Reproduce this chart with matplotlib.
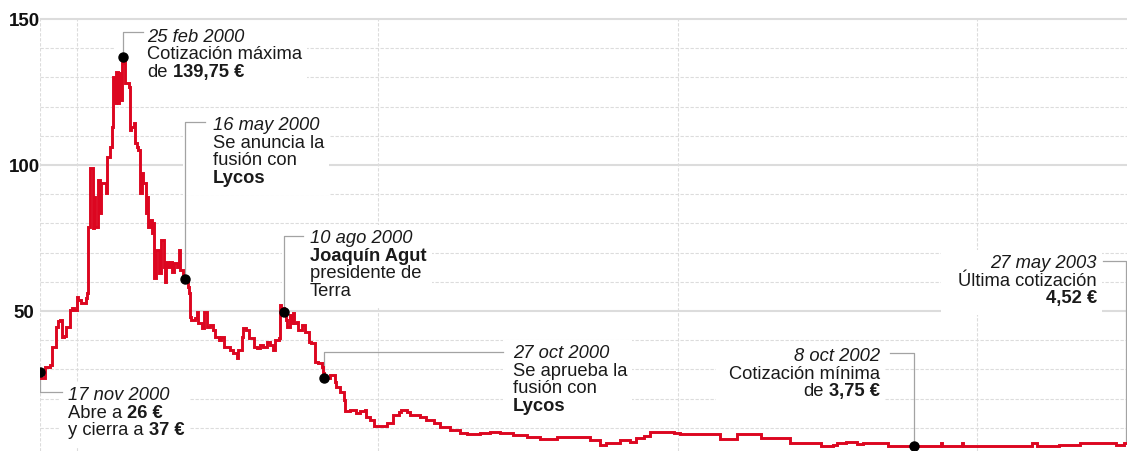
import matplotlib
matplotlib.use('Agg')
import matplotlib.pyplot as plt
from matplotlib.transforms import IdentityTransform, Bbox
from matplotlib.patches import Rectangle
from matplotlib.lines import Line2D

# Cotización de Terra (euros) por sesión bursátil, 17 nov 1999 - 27 may 2003
sesion = [0, 1, 4, 8, 10, 13, 15, 17, 18, 20,
          22, 25, 27, 28, 31, 32, 34, 38, 39, 40,
          42, 44, 45, 46, 48, 50, 51, 54, 55, 56,
          58, 60, 61, 62, 63, 65, 66, 67, 68, 69,
          70, 71, 72, 74, 75, 76, 78, 79, 81, 82,
          83, 85, 86, 88, 89, 90, 92, 93, 94, 95,
          97, 99, 101, 103, 104, 105, 107, 108, 110, 112,
          114, 116, 117, 119, 121, 123, 124, 125, 126, 129,
          131, 132, 135, 137, 139, 142, 144, 146, 149, 151,
          153, 156, 158, 161, 164, 165, 168, 169, 172, 174,
          176, 178, 181, 183, 186, 189, 192, 194, 196, 199,
          200, 201, 203, 205, 206, 208, 210, 211, 212, 214,
          215, 218, 221, 224, 226, 229, 232, 235, 236, 237,
          239, 242, 244, 246, 247, 250, 253, 254, 258, 263,
          267, 271, 272, 275, 278, 286, 289, 294, 299, 301,
          306, 308, 314, 317, 322, 328, 333, 342, 350, 356,
          367, 375, 383, 394, 406, 417, 431, 444, 458, 467,
          472, 483, 492, 497, 503, 508, 514, 519, 528, 533,
          564, 567, 575, 581, 600, 601, 622, 625, 647, 651,
          661, 664, 672, 681, 686, 700, 703, 707, 728, 749,
          751, 752, 766, 768, 769, 825, 827, 831, 836, 843,
          849, 858, 867, 886, 897, 903, 905]

cotizacion = [29.1, 27.1, 30.8, 31.5, 37.7, 44.5, 46.6, 46.9, 41.1, 41.4,
              44.5, 50.3, 51.0, 50.3, 54.8, 53.8, 52.7, 54.5, 56.2, 78.8,
              99.0, 78.4, 89.0, 78.8, 94.9, 83.6, 93.8, 93.8, 90.4, 102.7,
              106.2, 113.0, 130.1, 121.2, 131.8, 121.2, 131.5, 122.3, 134.9, 137.0,
              136.0, 128.1, 128.1, 126.7, 112.0, 113.0, 114.4, 107.5, 106.2, 105.1,
              90.4, 97.3, 93.8, 83.6, 89.0, 78.8, 81.2, 76.7, 80.1, 61.3,
              70.9, 63.0, 74.3, 65.1, 59.9, 66.8, 65.1, 66.8, 63.4, 66.4,
              65.1, 70.9, 64.0, 61.6, 61.0, 58.2, 56.2, 47.9, 46.9, 47.6,
              49.7, 45.9, 44.2, 49.7, 44.5, 45.2, 43.5, 41.1, 40.1, 41.1,
              37.7, 37.7, 36.6, 35.6, 33.9, 36.6, 41.1, 44.2, 43.5, 40.8,
              40.8, 37.7, 37.3, 38.4, 37.7, 39.4, 38.4, 36.6, 40.1, 40.8,
              52.1, 51.0, 49.7, 46.9, 44.5, 48.6, 45.9, 49.3, 45.9, 46.2,
              43.5, 45.2, 42.8, 39.4, 39.0, 32.5, 32.2, 30.8, 28.8, 27.1,
              27.1, 28.1, 28.1, 25.7, 24.0, 22.3, 19.5, 15.8, 16.1, 15.1,
              15.8, 16.1, 13.7, 12.7, 10.6, 10.6, 11.6, 14.4, 15.4, 16.1,
              15.4, 14.4, 14.4, 13.7, 12.7, 11.6, 10.3, 9.2, 8.2, 7.9,
              8.2, 8.6, 8.2, 7.5, 6.8, 6.2, 6.8, 6.8, 5.8, 4.1,
              4.8, 5.8, 5.2, 6.4, 7.2, 8.7, 8.7, 8.7, 8.3, 7.8,
              7.8, 6.1, 6.1, 7.8, 7.8, 6.4, 6.4, 4.9, 4.9, 3.8,
              4.1, 4.9, 5.2, 4.3, 4.9, 4.9, 4.7, 3.8, 3.75, 3.75,
              4.7, 3.75, 3.75, 4.9, 3.75, 3.75, 4.9, 3.75, 3.75, 3.8,
              4.1, 4.1, 4.7, 4.7, 4.1, 4.7, 4.9]

# Sesiones de cambio de año (rejilla vertical)
cambios_anio = [0, 31, 282, 532, 781]

marcas_y = [50, 100, 150]
etiquetas_y = ['50', '100', '150']

# Hitos anotados (sesión, líneas de texto con estilo: n normal, b negrita, i cursiva)
hitos_sesion = [0, 69, 121, 203, 237, 728, 905]
hitos_punto = [True, True, True, True, True, True, False]
hitos_texto = [
    [[('17 nov 2000', 'i')], [('Abre a', 'n'), ('26 €', 'b')],
     [('y cierra a', 'n'), ('37 €', 'b')]],
    [[('25 feb 2000', 'i')], [('Cotización máxima', 'n')],
     [('de', 'n'), ('139,75 €', 'b')]],
    [[('16 may 2000', 'i')], [('Se anuncia la', 'n')], [('fusión con', 'n')],
     [('Lycos', 'b')]],
    [[('10 ago 2000', 'i')], [('Joaquín Agut', 'b')], [('presidente de', 'n')],
     [('Terra', 'n')]],
    [[('27 oct 2000', 'i')], [('Se aprueba la', 'n')], [('fusión con', 'n')],
     [('Lycos', 'b')]],
    [[('8 oct 2002', 'i')], [('Cotización mínima', 'n')],
     [('de', 'n'), ('3,75 €', 'b')]],
    [[('27 may 2003', 'i')], [('Última cotización', 'n')], [('4,52 €', 'b')]],
]

# Maquetación de cada nota, en píxeles desde arriba a la izquierda:
# (x del texto, alineación, primera línea base, codo y, codo x, margen izq.)
maqueta = [
    (68, 'left', 400, 392, 62, 8),
    (147, 'left', 41.5, 32, 143, 32),
    (213, 'left', 130, 122, 205, 30),
    (310, 'left', 243, 236, 303, 28),
    (513, 'left', 358, 352, 503, 10),
    (880, 'right', 361, 353, 890, 13),
    (1097, 'right', 268, 261, 1103, 17),
]

W, H = 1127, 451
ROJO = '#dc0620'
GRIS_REJILLA = '#dcdcdc'
GRIS_GUIA = '#a3a3a3'
TEXTO = '#1a1a1a'
TAM = 13.2
INTERLINEA = 17.7

plt.rcParams['font.family'] = ['Liberation Sans', 'DejaVu Sans']

fig = plt.figure(figsize=(W / 100, H / 100), dpi=100)
ax = fig.add_axes([40 / W, 0, (W - 40) / W, 1])
ax.set_xlim(0, (W - 40) / 1.2)
ax.set_ylim((457 - H) / 2.92, 457 / 2.92)
for sp in ax.spines.values():
    sp.set_visible(False)
ax.set_xticks([])
ax.set_yticks(marcas_y)
ax.set_yticklabels(etiquetas_y, fontweight='bold', fontsize=13.5, color='#111111')
ax.tick_params(axis='y', length=0, pad=11.5)
for lab in ax.get_yticklabels():
    lab.set_horizontalalignment('center')

# Rejilla
xmax = ax.get_xlim()[1]
for y in range(10, 151, 10):
    if y in marcas_y:
        ax.hlines(y, 0, xmax, color=GRIS_REJILLA, lw=1.5, zorder=0.5)
    else:
        ax.hlines(y, 0, xmax, color=GRIS_REJILLA, lw=0.8, linestyles=(0, (3, 1.5)), zorder=0.5)
ax.vlines(cambios_anio, ax.get_ylim()[0], 150, color=GRIS_REJILLA, lw=0.8,
          linestyles=(0, (3, 1.5)), zorder=0.5)

# Serie
ax.plot(sesion, cotizacion, color=ROJO, lw=2.1, drawstyle='steps-post',
        solid_joinstyle='miter', zorder=4)

renderer = fig.canvas.get_renderer()


def estilo(clave):
    return dict(fontsize=TAM, color=TEXTO, zorder=10,
                fontweight='bold' if clave == 'b' else 'normal',
                fontstyle='italic' if clave == 'i' else 'normal',
                transform=IdentityTransform(), va='baseline', ha='left')


def ancho(texto, clave):
    t = fig.text(0, 0, texto, **estilo(clave))
    w = t.get_window_extent(renderer).width
    t.remove()
    return w


espacio = ancho('n n', 'n') - ancho('nn', 'n')

for s, punto, lineas, (xt, ha, base, codo_y, codo_x, margen) in zip(
        hitos_sesion, hitos_punto, hitos_texto, maqueta):
    v = cotizacion[sesion.index(s)]
    textos = []
    for k, linea in enumerate(lineas):
        yb = H - (base + k * INTERLINEA)
        anchos = [ancho(t, c) for t, c in linea]
        total = sum(anchos) + espacio * (len(linea) - 1)
        x = xt if ha == 'left' else xt - total
        for (t, c), w in zip(linea, anchos):
            textos.append(fig.text(x, yb, t, **estilo(c)))
            x += w + espacio
    bb = Bbox.union([t.get_window_extent(renderer) for t in textos])
    ax.add_patch(Rectangle((bb.x0 - margen, bb.y0 - 8), bb.width + margen + 5,
                           bb.height + 13, transform=IdentityTransform(),
                           facecolor='white', edgecolor='none', zorder=1))
    xd, yd = ax.transData.transform((s, v))
    ax.add_line(Line2D([xd, xd, codo_x], [yd, H - codo_y, H - codo_y],
                       transform=IdentityTransform(), color=GRIS_GUIA, lw=0.9, zorder=3))
    if punto:
        ax.plot([s], [v], 'o', color='black', ms=6.5, zorder=6)

fig.savefig('out.png', dpi=100)
